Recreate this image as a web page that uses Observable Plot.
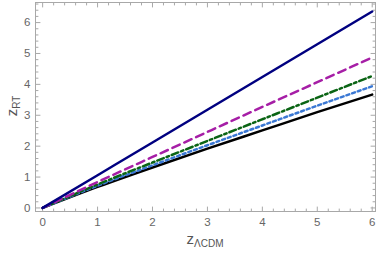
<!DOCTYPE html>
<html>
<head>
<meta charset="utf-8">
<script src="https://cdn.jsdelivr.net/npm/d3@7"></script>
<script src="https://cdn.jsdelivr.net/npm/@observablehq/plot@0.6"></script>
<style>
  html, body { margin: 0; padding: 0; background: #fff; }
  #chart svg { display: block; }
</style>
</head>
<body>
<div id="chart"></div>
<script>
const zLCDM = [0, 1, 2, 3, 4, 5, 6];
const seriesNames = ["navy", "purple", "green", "blue", "black"];
const navyVals   = [0, 1.06, 2.12, 3.18, 4.24, 5.30, 6.36];
const purpleVals = [0, 0.84, 1.65, 2.46, 3.27, 4.07, 4.87];
const greenVals  = [0, 0.76, 1.47, 2.17, 2.87, 3.57, 4.27];
const blueVals   = [0, 0.72, 1.38, 2.03, 2.67, 3.31, 3.94];
const blackVals  = [0, 0.68, 1.31, 1.92, 2.51, 3.10, 3.67];
const majorTicks = [0, 1, 2, 3, 4, 5, 6];

const valueLists = [navyVals, purpleVals, greenVals, blueVals, blackVals];
const styles = {
  navy:   {stroke: "#000080", dash: null},
  purple: {stroke: "#a61ea6", dash: "8,5"},
  green:  {stroke: "#0a6414", dash: "7,3,2.5,3"},
  blue:   {stroke: "#3a78d4", dash: "3,3"},
  black:  {stroke: "#000000", dash: null}
};

const rows = seriesNames.flatMap((s, i) => zLCDM.map((x, j) => ({series: s, x, y: valueLists[i][j]})));

const minorX = d3.range(0, 6.0001, 0.2).map(v => +v.toFixed(1));
const minorY = d3.range(0, 6.6001, 0.2).map(v => +v.toFixed(1));
const minorXs = minorX.filter(v => !majorTicks.includes(v));
const minorYs = minorY.filter(v => !majorTicks.includes(v));

const tickShape = {draw(ctx, l) { ctx.moveTo(0, 0); ctx.lineTo(0, -l); }};
const frameColor = "#a8a8a8";

function xTicks(vals, len) {
  return [
    Plot.vector(vals, {x: d => d, frameAnchor: "bottom", length: len, rotate: 0, anchor: "start", shape: tickShape, stroke: frameColor, strokeWidth: 1}),
    Plot.vector(vals, {x: d => d, frameAnchor: "top", length: len, rotate: 180, anchor: "start", shape: tickShape, stroke: frameColor, strokeWidth: 1})
  ];
}
function yTicks(vals, len) {
  return [
    Plot.vector(vals, {y: d => d, frameAnchor: "left", length: len, rotate: 90, anchor: "start", shape: tickShape, stroke: frameColor, strokeWidth: 1}),
    Plot.vector(vals, {y: d => d, frameAnchor: "right", length: len, rotate: -90, anchor: "start", shape: tickShape, stroke: frameColor, strokeWidth: 1})
  ];
}

const lineMarks = seriesNames.map(s => Plot.line(rows.filter(r => r.series === s), {
  x: "x", y: "y", stroke: styles[s].stroke, strokeWidth: 2.5, strokeDasharray: styles[s].dash,
  curve: "natural"
}));

const plot = Plot.plot({
  width: 379,
  height: 256,
  marginTop: 2,
  marginRight: 4,
  marginBottom: 45,
  marginLeft: 35,
  style: {fontFamily: "'Liberation Sans', Arial, sans-serif", fontSize: "11px", background: "#fff"},
  x: {domain: [-0.13, 6.06], label: null},
  y: {domain: [-0.115, 6.65], label: null},
  marks: [
    Plot.axisX(majorTicks, {anchor: "bottom", tickSize: 0, tickPadding: 6, fill: "#666", fontSize: 11.5, label: null}),
    Plot.axisY(majorTicks, {anchor: "left", tickSize: 0, tickPadding: 5, fill: "#666", fontSize: 11.5, label: null}),
    ...xTicks(majorTicks, 4.5),
    ...xTicks(minorXs, 2.5),
    ...yTicks(majorTicks, 4.5),
    ...yTicks(minorYs, 2.5),
    Plot.frame({stroke: frameColor, strokeWidth: 1}),
    ...lineMarks.slice().reverse()
  ]
});

document.getElementById("chart").appendChild(plot);

// Axis titles with subscripts
const svg = d3.select(plot);
const xt = svg.append("text")
  .attr("x", 205).attr("y", 244)
  .attr("text-anchor", "middle")
  .attr("fill", "#555")
  .style("font-family", "'Liberation Sans', Arial, sans-serif")
  .style("font-size", "15px");
xt.append("tspan").text("z");
xt.append("tspan").attr("dy", 3).style("font-size", "10px").text("ΛCDM");

const yt = svg.append("text")
  .attr("transform", "translate(17,106) rotate(-90)")
  .attr("text-anchor", "middle")
  .attr("fill", "#555")
  .style("font-family", "'Liberation Sans', Arial, sans-serif")
  .style("font-size", "15px");
yt.append("tspan").text("z");
yt.append("tspan").attr("dy", 3).style("font-size", "10px").text("RT");
</script>
</body>
</html>
